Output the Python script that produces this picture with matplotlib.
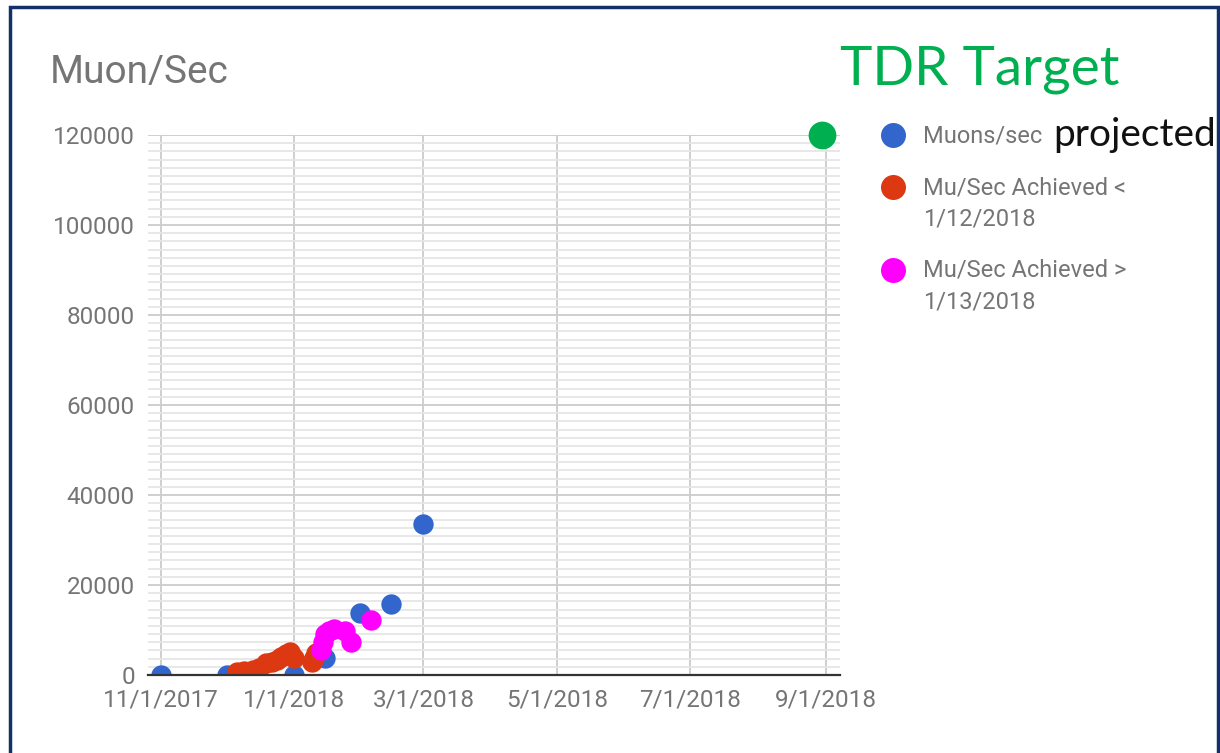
import matplotlib
matplotlib.use("Agg")
import matplotlib.pyplot as plt
from matplotlib.patches import Rectangle
import numpy as np
from datetime import datetime, timedelta

# --- data ---
proj_dates = ['2017-11-01', '2017-12-01', '2018-01-01', '2018-01-15',
              '2018-01-31', '2018-02-14', '2018-03-01']
proj_vals = [0, 0, 0, 3800, 13800, 15800, 33500]

early_dates = ['2017-12-06', '2017-12-09', '2017-12-13', '2017-12-16', '2017-12-19',
               '2017-12-22', '2017-12-24', '2017-12-26', '2017-12-28', '2017-12-30',
               '2018-01-01', '2018-01-09', '2018-01-10', '2018-01-11']
early_vals = [600, 900, 1100, 1500, 2600, 2900, 3300, 4000, 4600, 5200,
              3800, 2900, 3700, 5000]

late_dates = ['2018-01-13', '2018-01-14', '2018-01-15', '2018-01-17', '2018-01-19',
              '2018-01-24', '2018-01-27', '2018-02-05']
late_vals = [5500, 7300, 9200, 9800, 10200, 9800, 7300, 12200]

target_date = '2018-08-30'
target_val = 120000

series_names = ['Muons/sec', 'Mu/Sec Achieved <\n1/12/2018', 'Mu/Sec Achieved >\n1/13/2018']
series_colors = ['#3366cc', '#dc3912', '#ff00ff']

x_ticks = ['2017-11-01', '2018-01-01', '2018-03-01', '2018-05-01', '2018-07-01', '2018-09-01']
y_ticks = [0, 20000, 40000, 60000, 80000, 100000, 120000]

def d(s):
    return datetime.strptime(s, '%Y-%m-%d')

W, H = 1220, 753
def fx(px): return px / W
def fy(py): return 1 - py / H

plt.rcParams['font.family'] = ['Roboto', 'DejaVu Sans']
grey = '#757575'

fig = plt.figure(figsize=(12.2, 7.53), dpi=100)
ax = fig.add_axes([fx(148), fy(675), fx(840) - fx(148), fy(135) - fy(675)])

for dates, vals, col in zip([proj_dates, early_dates, late_dates],
                            [proj_vals, early_vals, late_vals], series_colors):
    ax.scatter([d(s) for s in dates], vals, s=215, color=col, linewidths=0, zorder=3)

# TDR target dot (sits on top edge, not clipped)
ax.scatter([d(target_date)], [target_val], s=400, color='#00b050', linewidths=0,
           zorder=5, clip_on=False)

ax.set_ylim(0, 120000)
ax.set_xlim(d('2017-11-01') - timedelta(days=5.9), d('2018-09-01') + timedelta(days=6.4))

ax.set_yticks(y_ticks)
ax.set_yticklabels([str(v) for v in y_ticks])
step = y_ticks[1] - y_ticks[0]
ax.set_yticks(np.arange(0, 120000 + 1, step / 11), minor=True)
ax.set_xticks([d(s) for s in x_ticks])
ax.set_xticklabels([f"{d(s).month}/{d(s).day}/{d(s).year}" for s in x_ticks])

ax.grid(which='major', axis='both', color='#cccccc', linewidth=1.3, zorder=0)
ax.grid(which='minor', axis='y', color='#e6e6e6', linewidth=1.3, zorder=0)
ax.set_axisbelow(True)
for sp in ['top', 'right', 'left']:
    ax.spines[sp].set_visible(False)
ax.spines['bottom'].set_color('#333333')
ax.spines['bottom'].set_linewidth(1.6)
ax.spines['bottom'].set_zorder(4)
ax.tick_params(which='both', length=0)
ax.tick_params(axis='y', pad=9.5, labelsize=17.5, labelcolor=grey)
ax.tick_params(axis='x', pad=10, labelsize=17.5, labelcolor=grey)

# title
fig.text(fx(50), fy(83), 'Muon/Sec', fontsize=28, color=grey, va='baseline', ha='left')

# legend, drawn by hand so the dot lines up with the first text line
leg_y = [135, 187, 270]
for name, col, py in zip(series_names, series_colors, leg_y):
    fig.lines.append(plt.Line2D([fx(893)], [fy(py)], marker='o', markersize=18,
                                color=col, markeredgewidth=0, transform=fig.transFigure))
    fig.text(fx(923), fy(py - 11), name, fontsize=17, color=grey, va='top', ha='left',
             linespacing=1.45)

fig.text(fx(1053), fy(135), 'projected', fontsize=28, color='#111111',
         family=['Lato', 'DejaVu Sans'], va='center', ha='left')
fig.text(fx(840), fy(84), 'TDR Target', fontsize=39.5, color='#00b050',
         family=['Lato', 'DejaVu Sans'], va='baseline', ha='left')

# slide frame
fig.patches.append(Rectangle((fx(10), -0.05), fx(1218) - fx(10), fy(7) + 0.05,
                             transform=fig.transFigure, fill=False,
                             edgecolor='#13306b', linewidth=2.5))

fig.savefig('out.png', dpi=100)
